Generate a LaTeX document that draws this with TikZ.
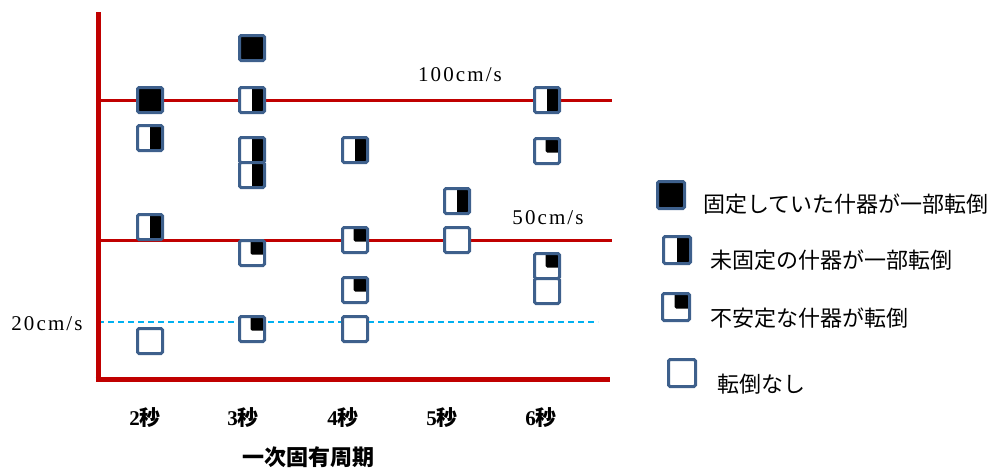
\documentclass[tikz,border=0pt]{standalone}
\usepackage{fontspec}
\setmainfont{Liberation Serif}
\newfontfamily\cjk{Noto Sans CJK JP}
\newfontfamily\lvfont[LetterSpace=10]{Liberation Serif}
\definecolor{axred}{RGB}{192,0,0}
\definecolor{sqblue}{RGB}{62,96,140}
\definecolor{dashblue}{RGB}{0,176,240}
\tikzset{
  sq/.style={draw=sqblue, line width=3pt, fill=white, rounded corners=1.5pt, minimum size=25pt, inner sep=0pt},
  lsq/.style={sq, minimum size=27pt},
  fullbox/.style={path picture={\fill[black] (path picture bounding box.south west) rectangle (path picture bounding box.north east);}},
  halfbox/.style={path picture={\fill[black] (path picture bounding box.south) rectangle (path picture bounding box.north east);}},
  quartbox/.style={path picture={\fill[black] ([xshift=-1.5pt,yshift=-1.5pt]path picture bounding box.center) rectangle (path picture bounding box.north east);}},
  axline/.style={draw=axred, line width=5pt},
  lvline/.style={draw=axred, line width=3pt},
  tick/.style={font=\fontsize{21}{21}\selectfont\bfseries, inner sep=0pt},
  lvlab/.style={font=\fontsize{21}{21}\selectfont\lvfont, inner sep=0pt},
  legtext/.style={font=\fontsize{22}{22}\selectfont\cjk, anchor=west, inner sep=0pt}
}
\begin{document}
\begin{tikzpicture}[x=1pt,y=-1pt]
\useasboundingbox (0,0) rectangle (990,471);
% level lines
\coordinate (l100a) at (98,100); \coordinate (l100b) at (612,100);
\coordinate (l50a) at (98,240); \coordinate (l50b) at (612,240);
\coordinate (l20a) at (98,322); \coordinate (l20b) at (598,322);
\draw[lvline] (l100a) -- (l100b);
\draw[lvline] (l50a) -- (l50b);
\draw[draw=dashblue, line width=1.5pt, dash pattern=on 6pt off 4pt] (l20a) -- (l20b);
% axes
\coordinate (ytop) at (98,12); \coordinate (origin) at (98,379); \coordinate (xend) at (610,379);
\draw[axline] (ytop) -- ([yshift=-2.5pt]origin.center);
\draw[axline] ([xshift=-2.5pt]origin) -- (xend);
% level labels
\node[lvlab] (t100) at (460,75) {100cm/s};
\node[lvlab] (t50) at (548,218) {50cm/s};
\node[lvlab] (t20) at (47,324) {20cm/s};
% 2 sec
\node[sq,fullbox] (a1) at (150,100) {};
\node[sq,halfbox] (a2) at (150,138) {};
\node[sq,halfbox] (a3) at (150,227) {};
\node[sq] (a4) at (150,341) {};
% 3 sec
\node[sq,fullbox] (b1) at (252,48) {};
\node[sq,halfbox] (b2) at (252,100) {};
\node[sq,halfbox] (b3) at (252,150) {};
\node[sq,halfbox] (b4) at (252,175) {};
\node[sq,quartbox] (b5) at (252,253) {};
\node[sq,quartbox] (b6) at (252,329) {};
% 4 sec
\node[sq,halfbox] (c1) at (355,150) {};
\node[sq,quartbox] (c2) at (355,240) {};
\node[sq,quartbox] (c3) at (355,290) {};
\node[sq] (c4) at (355,329) {};
% 5 sec
\node[sq,halfbox] (d1) at (457,201) {};
\node[sq] (d2) at (457,240) {};
% 6 sec
\node[sq,halfbox] (e1) at (547,100) {};
\node[sq,quartbox] (e2) at (547,151) {};
\node[sq,quartbox] (e3) at (547,266) {};
\node[sq] (e4) at (547,291) {};
% tick labels
\node[tick] (x2) at (145,418) {2{\cjk 秒}};
\node[tick] (x3) at (243,418) {3{\cjk 秒}};
\node[tick] (x4) at (343,418) {4{\cjk 秒}};
\node[tick] (x5) at (442,418) {5{\cjk 秒}};
\node[tick] (x6) at (541,418) {6{\cjk 秒}};
\node[tick, font=\fontsize{22}{22}\selectfont\cjk\bfseries] (xt) at (308,457) {一次固有周期};
% legend
\node[lsq,fullbox] (k1) at (671,195) {};
\node[legtext] (k1t) at (703,204) {固定していた什器が一部転倒};
\node[lsq,halfbox] (k2) at (677,250) {};
\node[legtext] (k2t) at (710,260) {未固定の什器が一部転倒};
\node[lsq,quartbox] (k3) at (676,307) {};
\node[legtext] (k3t) at (710,318) {不安定な什器が転倒};
\node[lsq] (k4) at (682,373) {};
\node[legtext] (k4t) at (717,384) {転倒なし};
\end{tikzpicture}
\end{document}
